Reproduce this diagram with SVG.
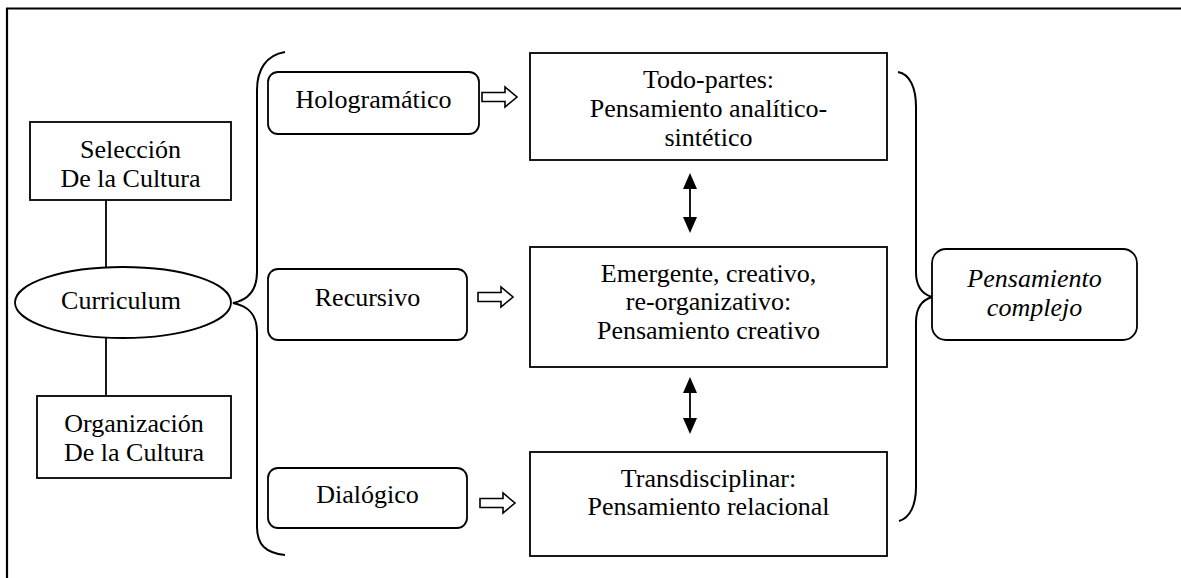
<svg xmlns="http://www.w3.org/2000/svg" width="1181" height="578" viewBox="0 0 1181 578">
  <style>
    .box { fill: #fff; stroke: #000; stroke-width: 1.8; }
    .line { fill: none; stroke: #000; stroke-width: 1.8; }
    .brace { fill: none; stroke: #000; stroke-width: 2; }
    .hollow { fill: #fff; stroke: #000; stroke-width: 1.6; stroke-linejoin: miter; }
    text { font-size: 26px; fill: #000; text-anchor: middle; }
    .it { font-style: italic; }
  </style>
  <defs>
    <marker id="tri" viewBox="0 0 16 14" refX="2" refY="7" markerWidth="16" markerHeight="14" markerUnits="userSpaceOnUse" orient="auto-start-reverse">
      <path d="M0,0 L16,7 L0,14 Z" fill="#000"/>
    </marker>
    <path id="hollow-arrow" d="M0,-4.5 H23 V-10 L35,0 L23,10 V4.5 H0 Z"/>
  </defs>

  <rect width="1181" height="578" fill="#fff"/>

  <!-- page frame: top and left rules -->
  <g id="frame">
    <line x1="6" y1="8.5" x2="1181" y2="8.5" stroke="#000" stroke-width="2.2"/>
    <line x1="7" y1="8" x2="7" y2="578" stroke="#000" stroke-width="2.2"/>
  </g>

  <g id="connectors">
    <line class="line" x1="106" y1="200" x2="106" y2="267"/>
    <line class="line" x1="106" y1="338" x2="106" y2="396"/>
    <!-- left brace -->
    <path class="brace" d="M285,52 C266,55 257,70 257,90 L257,272 C257,290 248,300 233,303 C248,306 257,314 257,332 L257,527 C257,545 266,553 285,555"/>
    <!-- right brace -->
    <path class="brace" d="M898,72 C910,74 916,88 916,107 L916,272 C916,286 922,294 932,297 C922,300 916,308 916,322 L916,487 C916,505 910,518 899,521"/>
    <!-- hollow arrows -->
    <use href="#hollow-arrow" class="hollow" transform="translate(482,97)"/>
    <use href="#hollow-arrow" class="hollow" transform="translate(478,297)"/>
    <use href="#hollow-arrow" class="hollow" transform="translate(480,503)"/>
    <!-- double arrows between stages -->
    <line class="line" x1="690" y1="187" x2="690" y2="219" marker-start="url(#tri)" marker-end="url(#tri)"/>
    <line class="line" x1="690" y1="391" x2="690" y2="420" marker-start="url(#tri)" marker-end="url(#tri)"/>
  </g>

  <g font-family="'Liberation Serif', 'Times New Roman', 'DejaVu Serif', serif">
  <g id="seleccion">
    <rect class="box" x="30" y="122" width="201" height="78"/>
    <text x="130.5" y="158">Selección</text>
    <text x="130.5" y="187">De la Cultura</text>
  </g>

  <g id="curriculum">
    <ellipse class="box" cx="123" cy="302.5" rx="108" ry="35.5"/>
    <text x="121" y="309">Curriculum</text>
  </g>

  <g id="organizacion">
    <rect class="box" x="37" y="396" width="194" height="82"/>
    <text x="134" y="432">Organización</text>
    <text x="134" y="461">De la Cultura</text>
  </g>

  <g id="hologramatico">
    <rect class="box" x="268" y="72" width="211" height="62" rx="10"/>
    <text x="373.5" y="108">Hologramático</text>
  </g>

  <g id="recursivo">
    <rect class="box" x="268" y="269" width="199" height="71" rx="10"/>
    <text x="367.5" y="306">Recursivo</text>
  </g>

  <g id="dialogico">
    <rect class="box" x="268" y="468" width="199" height="60" rx="10"/>
    <text x="367.5" y="503">Dialógico</text>
  </g>

  <g id="todo-partes">
    <rect class="box" x="530" y="53" width="357" height="107"/>
    <text x="708.5" y="88">Todo-partes:</text>
    <text x="708.5" y="117">Pensamiento analítico-</text>
    <text x="708.5" y="146">sintético</text>
  </g>

  <g id="emergente">
    <rect class="box" x="530" y="247" width="357" height="120"/>
    <text x="708.5" y="282">Emergente, creativo,</text>
    <text x="708.5" y="310">re-organizativo:</text>
    <text x="708.5" y="339">Pensamiento creativo</text>
  </g>

  <g id="transdisciplinar">
    <rect class="box" x="530" y="452" width="357" height="104"/>
    <text x="708.5" y="487">Transdisciplinar:</text>
    <text x="708.5" y="515">Pensamiento relacional</text>
  </g>

  <g id="pensamiento-complejo">
    <rect class="box" x="932" y="249" width="205" height="91" rx="14"/>
    <text class="it" x="1034.5" y="287">Pensamiento</text>
    <text class="it" x="1034.5" y="316">complejo</text>
  </g>
  </g>
</svg>
